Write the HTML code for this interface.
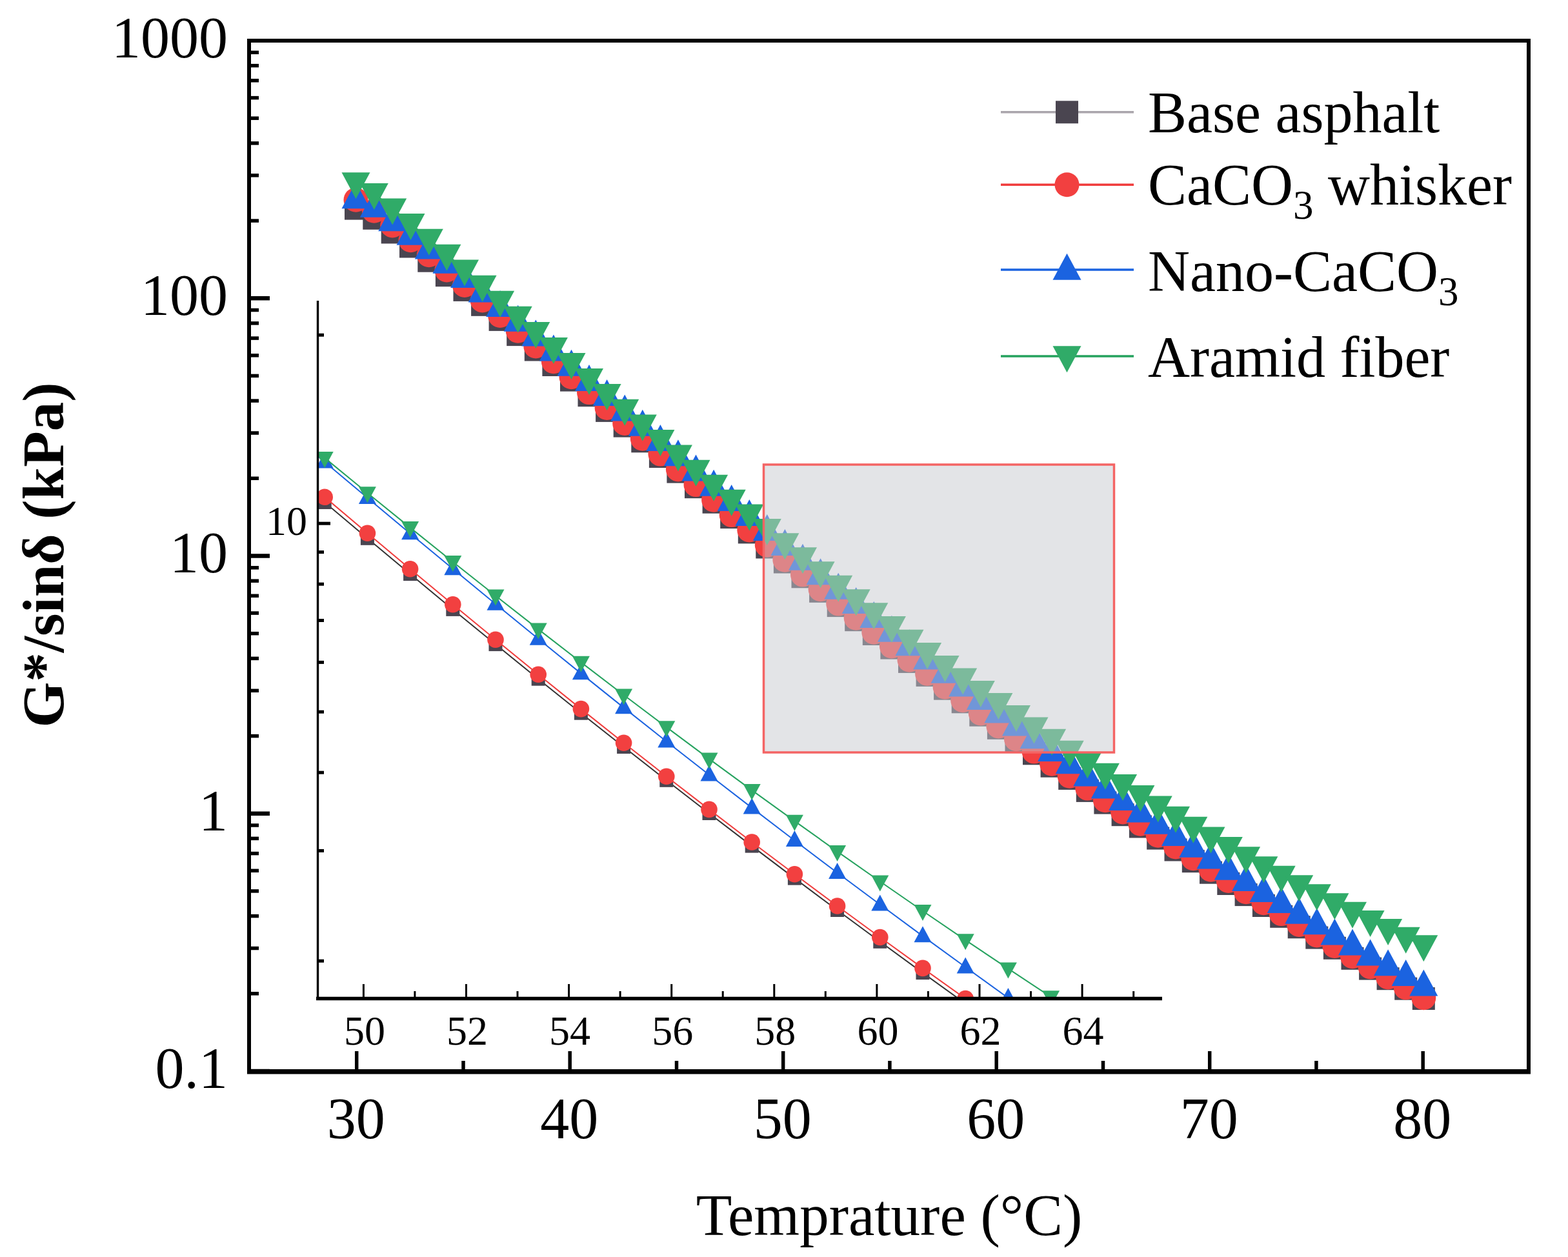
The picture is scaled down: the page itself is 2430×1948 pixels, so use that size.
<!DOCTYPE html><html><head><meta charset="utf-8"><style>html,body{margin:0;padding:0;background:#fff}svg{display:block}text{font-family:"Liberation Serif","Times New Roman",serif;fill:#000}</style></head><body>
<svg width="2430" height="1948" viewBox="0 0 2430 1948">
<rect width="2430" height="1948" fill="#fff"/>
<defs><clipPath id="ic"><rect x="492" y="466" width="1309" height="1079"/></clipPath></defs>
<g clip-path="url(#ic)">
<polyline points="370.8,665.8 437.0,722.3 503.2,778.5 569.4,834.3 635.6,889.6 701.8,944.4 768.0,998.6 834.2,1052.2 900.4,1105.2 966.6,1157.5 1032.8,1209.3 1099.0,1260.5 1165.2,1311.1 1231.4,1361.1 1297.6,1410.5 1363.8,1459.3 1430.0,1507.6 1496.2,1555.3 1562.4,1602.5 1628.6,1649.1 1694.8,1695.2 1761.0,1740.8" fill="none" stroke="#333" stroke-width="2"/>
<rect x="360.3" y="655.3" width="21.0" height="21.0" fill="#4a4550"/>
<rect x="426.5" y="711.8" width="21.0" height="21.0" fill="#4a4550"/>
<rect x="492.7" y="768.0" width="21.0" height="21.0" fill="#4a4550"/>
<rect x="558.9" y="823.8" width="21.0" height="21.0" fill="#4a4550"/>
<rect x="625.1" y="879.1" width="21.0" height="21.0" fill="#4a4550"/>
<rect x="691.3" y="933.9" width="21.0" height="21.0" fill="#4a4550"/>
<rect x="757.5" y="988.1" width="21.0" height="21.0" fill="#4a4550"/>
<rect x="823.7" y="1041.7" width="21.0" height="21.0" fill="#4a4550"/>
<rect x="889.9" y="1094.7" width="21.0" height="21.0" fill="#4a4550"/>
<rect x="956.1" y="1147.0" width="21.0" height="21.0" fill="#4a4550"/>
<rect x="1022.3" y="1198.8" width="21.0" height="21.0" fill="#4a4550"/>
<rect x="1088.5" y="1250.0" width="21.0" height="21.0" fill="#4a4550"/>
<rect x="1154.7" y="1300.6" width="21.0" height="21.0" fill="#4a4550"/>
<rect x="1220.9" y="1350.6" width="21.0" height="21.0" fill="#4a4550"/>
<rect x="1287.1" y="1400.0" width="21.0" height="21.0" fill="#4a4550"/>
<rect x="1353.3" y="1448.8" width="21.0" height="21.0" fill="#4a4550"/>
<rect x="1419.5" y="1497.1" width="21.0" height="21.0" fill="#4a4550"/>
<rect x="1485.7" y="1544.8" width="21.0" height="21.0" fill="#4a4550"/>
<rect x="1551.9" y="1592.0" width="21.0" height="21.0" fill="#4a4550"/>
<rect x="1618.1" y="1638.6" width="21.0" height="21.0" fill="#4a4550"/>
<rect x="1684.3" y="1684.7" width="21.0" height="21.0" fill="#4a4550"/>
<rect x="1750.5" y="1730.3" width="21.0" height="21.0" fill="#4a4550"/>
<polyline points="370.8,657.2 437.0,714.0 503.2,770.3 569.4,826.3 635.6,881.8 701.8,936.8 768.0,991.3 834.2,1045.2 900.4,1098.6 966.6,1151.2 1032.8,1203.2 1099.0,1254.4 1165.2,1305.0 1231.4,1354.8 1297.6,1404.0 1363.8,1452.5 1430.0,1500.4 1496.2,1547.6 1562.4,1594.4 1628.6,1640.5 1694.8,1686.1 1761.0,1731.2" fill="none" stroke="#f03c3c" stroke-width="2"/>
<circle cx="370.8" cy="657.2" r="12.8" fill="#f24040"/>
<circle cx="437.0" cy="714.0" r="12.8" fill="#f24040"/>
<circle cx="503.2" cy="770.3" r="12.8" fill="#f24040"/>
<circle cx="569.4" cy="826.3" r="12.8" fill="#f24040"/>
<circle cx="635.6" cy="881.8" r="12.8" fill="#f24040"/>
<circle cx="701.8" cy="936.8" r="12.8" fill="#f24040"/>
<circle cx="768.0" cy="991.3" r="12.8" fill="#f24040"/>
<circle cx="834.2" cy="1045.2" r="12.8" fill="#f24040"/>
<circle cx="900.4" cy="1098.6" r="12.8" fill="#f24040"/>
<circle cx="966.6" cy="1151.2" r="12.8" fill="#f24040"/>
<circle cx="1032.8" cy="1203.2" r="12.8" fill="#f24040"/>
<circle cx="1099.0" cy="1254.4" r="12.8" fill="#f24040"/>
<circle cx="1165.2" cy="1305.0" r="12.8" fill="#f24040"/>
<circle cx="1231.4" cy="1354.8" r="12.8" fill="#f24040"/>
<circle cx="1297.6" cy="1404.0" r="12.8" fill="#f24040"/>
<circle cx="1363.8" cy="1452.5" r="12.8" fill="#f24040"/>
<circle cx="1430.0" cy="1500.4" r="12.8" fill="#f24040"/>
<circle cx="1496.2" cy="1547.6" r="12.8" fill="#f24040"/>
<circle cx="1562.4" cy="1594.4" r="12.8" fill="#f24040"/>
<circle cx="1628.6" cy="1640.5" r="12.8" fill="#f24040"/>
<circle cx="1694.8" cy="1686.1" r="12.8" fill="#f24040"/>
<circle cx="1761.0" cy="1731.2" r="12.8" fill="#f24040"/>
<polyline points="370.8,604.0 437.0,660.1 503.2,715.9 569.4,771.5 635.6,826.7 701.8,881.6 768.0,936.1 834.2,990.1 900.4,1043.6 966.6,1096.6 1032.8,1149.0 1099.0,1200.8 1165.2,1251.9 1231.4,1302.5 1297.6,1352.5 1363.8,1401.8 1430.0,1450.6 1496.2,1498.8 1562.4,1546.5 1628.6,1593.5 1694.8,1640.1 1761.0,1686.0" fill="none" stroke="#1b63e0" stroke-width="2"/>
<path d="M370.8 588.6L384.3 613.6L357.3 613.6Z" fill="#1b63e0"/>
<path d="M437.0 644.7L450.5 669.7L423.5 669.7Z" fill="#1b63e0"/>
<path d="M503.2 700.5L516.7 725.5L489.7 725.5Z" fill="#1b63e0"/>
<path d="M569.4 756.1L582.9 781.1L555.9 781.1Z" fill="#1b63e0"/>
<path d="M635.6 811.3L649.1 836.3L622.1 836.3Z" fill="#1b63e0"/>
<path d="M701.8 866.2L715.3 891.2L688.3 891.2Z" fill="#1b63e0"/>
<path d="M768.0 920.7L781.5 945.7L754.5 945.7Z" fill="#1b63e0"/>
<path d="M834.2 974.7L847.7 999.7L820.7 999.7Z" fill="#1b63e0"/>
<path d="M900.4 1028.2L913.9 1053.2L886.9 1053.2Z" fill="#1b63e0"/>
<path d="M966.6 1081.2L980.1 1106.2L953.1 1106.2Z" fill="#1b63e0"/>
<path d="M1032.8 1133.6L1046.3 1158.6L1019.3 1158.6Z" fill="#1b63e0"/>
<path d="M1099.0 1185.4L1112.5 1210.4L1085.5 1210.4Z" fill="#1b63e0"/>
<path d="M1165.2 1236.6L1178.7 1261.6L1151.7 1261.6Z" fill="#1b63e0"/>
<path d="M1231.4 1287.1L1244.9 1312.1L1217.9 1312.1Z" fill="#1b63e0"/>
<path d="M1297.6 1337.1L1311.1 1362.1L1284.1 1362.1Z" fill="#1b63e0"/>
<path d="M1363.8 1386.5L1377.3 1411.5L1350.3 1411.5Z" fill="#1b63e0"/>
<path d="M1430.0 1435.2L1443.5 1460.2L1416.5 1460.2Z" fill="#1b63e0"/>
<path d="M1496.2 1483.4L1509.7 1508.4L1482.7 1508.4Z" fill="#1b63e0"/>
<path d="M1562.4 1531.1L1575.9 1556.1L1548.9 1556.1Z" fill="#1b63e0"/>
<path d="M1628.6 1578.2L1642.1 1603.2L1615.1 1603.2Z" fill="#1b63e0"/>
<path d="M1694.8 1624.7L1708.3 1649.7L1681.3 1649.7Z" fill="#1b63e0"/>
<path d="M1761.0 1670.7L1774.5 1695.7L1747.5 1695.7Z" fill="#1b63e0"/>
<polyline points="370.8,599.8 437.0,655.0 503.2,709.7 569.4,763.9 635.6,817.6 701.8,870.7 768.0,923.2 834.2,975.1 900.4,1026.4 966.6,1077.0 1032.8,1126.9 1099.0,1176.1 1165.2,1224.6 1231.4,1272.4 1297.6,1319.6 1363.8,1366.0 1430.0,1411.8 1496.2,1456.8 1562.4,1501.2 1628.6,1544.9 1694.8,1587.9 1761.0,1630.3" fill="none" stroke="#25a25e" stroke-width="2"/>
<path d="M357.3 590.1L384.3 590.1L370.8 615.1Z" fill="#30ab68"/>
<path d="M423.5 645.4L450.5 645.4L437.0 670.4Z" fill="#30ab68"/>
<path d="M489.7 700.1L516.7 700.1L503.2 725.1Z" fill="#30ab68"/>
<path d="M555.9 754.3L582.9 754.3L569.4 779.3Z" fill="#30ab68"/>
<path d="M622.1 808.0L649.1 808.0L635.6 833.0Z" fill="#30ab68"/>
<path d="M688.3 861.1L715.3 861.1L701.8 886.1Z" fill="#30ab68"/>
<path d="M754.5 913.6L781.5 913.6L768.0 938.6Z" fill="#30ab68"/>
<path d="M820.7 965.5L847.7 965.5L834.2 990.5Z" fill="#30ab68"/>
<path d="M886.9 1016.8L913.9 1016.8L900.4 1041.8Z" fill="#30ab68"/>
<path d="M953.1 1067.4L980.1 1067.4L966.6 1092.4Z" fill="#30ab68"/>
<path d="M1019.3 1117.3L1046.3 1117.3L1032.8 1142.3Z" fill="#30ab68"/>
<path d="M1085.5 1166.5L1112.5 1166.5L1099.0 1191.5Z" fill="#30ab68"/>
<path d="M1151.7 1215.0L1178.7 1215.0L1165.2 1240.0Z" fill="#30ab68"/>
<path d="M1217.9 1262.8L1244.9 1262.8L1231.4 1287.8Z" fill="#30ab68"/>
<path d="M1284.1 1310.0L1311.1 1310.0L1297.6 1335.0Z" fill="#30ab68"/>
<path d="M1350.3 1356.4L1377.3 1356.4L1363.8 1381.4Z" fill="#30ab68"/>
<path d="M1416.5 1402.1L1443.5 1402.1L1430.0 1427.1Z" fill="#30ab68"/>
<path d="M1482.7 1447.2L1509.7 1447.2L1496.2 1472.2Z" fill="#30ab68"/>
<path d="M1548.9 1491.6L1575.9 1491.6L1562.4 1516.6Z" fill="#30ab68"/>
<path d="M1615.1 1535.3L1642.1 1535.3L1628.6 1560.3Z" fill="#30ab68"/>
<path d="M1681.3 1578.3L1708.3 1578.3L1694.8 1603.3Z" fill="#30ab68"/>
<path d="M1747.5 1620.7L1774.5 1620.7L1761.0 1645.7Z" fill="#30ab68"/>
</g>
<polyline points="551.5,323.1 579.8,338.3 608.2,360.0 636.5,382.0 664.8,404.2 692.4,426.7 720.0,449.4 747.6,472.3 775.1,495.4 802.7,518.6 830.3,542.0 857.9,565.5 885.5,589.1 913.0,612.7 940.6,636.4 968.2,660.1 995.8,683.8 1023.4,707.5 1050.9,731.1 1078.5,754.7 1106.1,778.2 1133.7,801.6 1161.3,824.9 1188.8,848.0 1216.4,871.0 1244.0,893.8 1271.6,916.3 1299.2,938.6 1326.7,960.7 1354.3,982.5 1381.9,1004.1 1409.5,1025.4 1437.1,1046.4 1464.6,1067.2 1492.2,1087.8 1519.8,1108.2 1547.4,1128.3 1575.0,1148.1 1602.5,1167.8 1630.1,1187.2 1657.7,1206.4 1685.3,1225.4 1712.9,1244.1 1740.1,1262.7 1767.4,1281.0 1794.7,1299.1 1822.0,1317.0 1849.3,1334.7 1876.5,1352.2 1903.8,1369.5 1931.1,1386.6 1958.4,1403.5 1985.7,1420.3 2013.2,1436.8 2040.8,1453.1 2068.4,1469.3 2096.0,1485.3 2123.6,1501.1 2151.1,1516.7 2178.7,1532.2 2206.3,1547.5" fill="none" stroke="#333" stroke-width="2.5"/>
<rect x="534.0" y="305.6" width="35.0" height="35.0" fill="#4a4550"/>
<rect x="562.3" y="320.8" width="35.0" height="35.0" fill="#4a4550"/>
<rect x="590.7" y="342.5" width="35.0" height="35.0" fill="#4a4550"/>
<rect x="619.0" y="364.5" width="35.0" height="35.0" fill="#4a4550"/>
<rect x="647.3" y="386.7" width="35.0" height="35.0" fill="#4a4550"/>
<rect x="674.9" y="409.2" width="35.0" height="35.0" fill="#4a4550"/>
<rect x="702.5" y="431.9" width="35.0" height="35.0" fill="#4a4550"/>
<rect x="730.1" y="454.8" width="35.0" height="35.0" fill="#4a4550"/>
<rect x="757.6" y="477.9" width="35.0" height="35.0" fill="#4a4550"/>
<rect x="785.2" y="501.1" width="35.0" height="35.0" fill="#4a4550"/>
<rect x="812.8" y="524.5" width="35.0" height="35.0" fill="#4a4550"/>
<rect x="840.4" y="548.0" width="35.0" height="35.0" fill="#4a4550"/>
<rect x="868.0" y="571.6" width="35.0" height="35.0" fill="#4a4550"/>
<rect x="895.5" y="595.2" width="35.0" height="35.0" fill="#4a4550"/>
<rect x="923.1" y="618.9" width="35.0" height="35.0" fill="#4a4550"/>
<rect x="950.7" y="642.6" width="35.0" height="35.0" fill="#4a4550"/>
<rect x="978.3" y="666.3" width="35.0" height="35.0" fill="#4a4550"/>
<rect x="1005.9" y="690.0" width="35.0" height="35.0" fill="#4a4550"/>
<rect x="1033.4" y="713.6" width="35.0" height="35.0" fill="#4a4550"/>
<rect x="1061.0" y="737.2" width="35.0" height="35.0" fill="#4a4550"/>
<rect x="1088.6" y="760.7" width="35.0" height="35.0" fill="#4a4550"/>
<rect x="1116.2" y="784.1" width="35.0" height="35.0" fill="#4a4550"/>
<rect x="1143.8" y="807.4" width="35.0" height="35.0" fill="#4a4550"/>
<rect x="1171.3" y="830.5" width="35.0" height="35.0" fill="#4a4550"/>
<rect x="1198.9" y="853.5" width="35.0" height="35.0" fill="#4a4550"/>
<rect x="1226.5" y="876.3" width="35.0" height="35.0" fill="#4a4550"/>
<rect x="1254.1" y="898.8" width="35.0" height="35.0" fill="#4a4550"/>
<rect x="1281.7" y="921.1" width="35.0" height="35.0" fill="#4a4550"/>
<rect x="1309.2" y="943.2" width="35.0" height="35.0" fill="#4a4550"/>
<rect x="1336.8" y="965.0" width="35.0" height="35.0" fill="#4a4550"/>
<rect x="1364.4" y="986.6" width="35.0" height="35.0" fill="#4a4550"/>
<rect x="1392.0" y="1007.9" width="35.0" height="35.0" fill="#4a4550"/>
<rect x="1419.6" y="1028.9" width="35.0" height="35.0" fill="#4a4550"/>
<rect x="1447.1" y="1049.7" width="35.0" height="35.0" fill="#4a4550"/>
<rect x="1474.7" y="1070.3" width="35.0" height="35.0" fill="#4a4550"/>
<rect x="1502.3" y="1090.7" width="35.0" height="35.0" fill="#4a4550"/>
<rect x="1529.9" y="1110.8" width="35.0" height="35.0" fill="#4a4550"/>
<rect x="1557.5" y="1130.6" width="35.0" height="35.0" fill="#4a4550"/>
<rect x="1585.0" y="1150.3" width="35.0" height="35.0" fill="#4a4550"/>
<rect x="1612.6" y="1169.7" width="35.0" height="35.0" fill="#4a4550"/>
<rect x="1640.2" y="1188.9" width="35.0" height="35.0" fill="#4a4550"/>
<rect x="1667.8" y="1207.9" width="35.0" height="35.0" fill="#4a4550"/>
<rect x="1695.4" y="1226.6" width="35.0" height="35.0" fill="#4a4550"/>
<rect x="1722.6" y="1245.2" width="35.0" height="35.0" fill="#4a4550"/>
<rect x="1749.9" y="1263.5" width="35.0" height="35.0" fill="#4a4550"/>
<rect x="1777.2" y="1281.6" width="35.0" height="35.0" fill="#4a4550"/>
<rect x="1804.5" y="1299.5" width="35.0" height="35.0" fill="#4a4550"/>
<rect x="1831.8" y="1317.2" width="35.0" height="35.0" fill="#4a4550"/>
<rect x="1859.0" y="1334.7" width="35.0" height="35.0" fill="#4a4550"/>
<rect x="1886.3" y="1352.0" width="35.0" height="35.0" fill="#4a4550"/>
<rect x="1913.6" y="1369.1" width="35.0" height="35.0" fill="#4a4550"/>
<rect x="1940.9" y="1386.0" width="35.0" height="35.0" fill="#4a4550"/>
<rect x="1968.2" y="1402.8" width="35.0" height="35.0" fill="#4a4550"/>
<rect x="1995.7" y="1419.3" width="35.0" height="35.0" fill="#4a4550"/>
<rect x="2023.3" y="1435.6" width="35.0" height="35.0" fill="#4a4550"/>
<rect x="2050.9" y="1451.8" width="35.0" height="35.0" fill="#4a4550"/>
<rect x="2078.5" y="1467.8" width="35.0" height="35.0" fill="#4a4550"/>
<rect x="2106.1" y="1483.6" width="35.0" height="35.0" fill="#4a4550"/>
<rect x="2133.6" y="1499.2" width="35.0" height="35.0" fill="#4a4550"/>
<rect x="2161.2" y="1514.7" width="35.0" height="35.0" fill="#4a4550"/>
<rect x="2188.8" y="1530.0" width="35.0" height="35.0" fill="#4a4550"/>
<polyline points="551.5,309.7 579.8,326.7 608.2,349.4 636.5,372.3 664.8,395.3 692.4,418.5 720.0,441.9 747.6,465.4 775.1,489.0 802.7,512.7 830.3,536.5 857.9,560.3 885.5,584.2 913.0,608.1 940.6,632.0 968.2,655.9 995.8,679.8 1023.4,703.6 1050.9,727.4 1078.5,751.1 1106.1,774.7 1133.7,798.1 1161.3,821.5 1188.8,844.7 1216.4,867.7 1244.0,890.6 1271.6,913.2 1299.2,935.6 1326.7,957.8 1354.3,979.8 1381.9,1001.5 1409.5,1022.8 1437.1,1043.9 1464.6,1064.7 1492.2,1085.2 1519.8,1105.5 1547.4,1125.4 1575.0,1145.2 1602.5,1164.6 1630.1,1183.8 1657.7,1202.8 1685.3,1221.6 1712.9,1240.2 1740.1,1258.5 1767.4,1276.7 1794.7,1294.7 1822.0,1312.5 1849.3,1330.2 1876.5,1347.7 1903.8,1365.0 1931.1,1382.2 1958.4,1399.2 1985.7,1416.1 2013.2,1432.9 2040.8,1449.5 2068.4,1466.0 2096.0,1482.3 2123.6,1498.5 2151.1,1514.5 2178.7,1530.5 2206.3,1546.2" fill="none" stroke="#f03c3c" stroke-width="2.5"/>
<circle cx="551.5" cy="309.7" r="19.0" fill="#f24040"/>
<circle cx="579.8" cy="326.7" r="19.0" fill="#f24040"/>
<circle cx="608.2" cy="349.4" r="19.0" fill="#f24040"/>
<circle cx="636.5" cy="372.3" r="19.0" fill="#f24040"/>
<circle cx="664.8" cy="395.3" r="19.0" fill="#f24040"/>
<circle cx="692.4" cy="418.5" r="19.0" fill="#f24040"/>
<circle cx="720.0" cy="441.9" r="19.0" fill="#f24040"/>
<circle cx="747.6" cy="465.4" r="19.0" fill="#f24040"/>
<circle cx="775.1" cy="489.0" r="19.0" fill="#f24040"/>
<circle cx="802.7" cy="512.7" r="19.0" fill="#f24040"/>
<circle cx="830.3" cy="536.5" r="19.0" fill="#f24040"/>
<circle cx="857.9" cy="560.3" r="19.0" fill="#f24040"/>
<circle cx="885.5" cy="584.2" r="19.0" fill="#f24040"/>
<circle cx="913.0" cy="608.1" r="19.0" fill="#f24040"/>
<circle cx="940.6" cy="632.0" r="19.0" fill="#f24040"/>
<circle cx="968.2" cy="655.9" r="19.0" fill="#f24040"/>
<circle cx="995.8" cy="679.8" r="19.0" fill="#f24040"/>
<circle cx="1023.4" cy="703.6" r="19.0" fill="#f24040"/>
<circle cx="1050.9" cy="727.4" r="19.0" fill="#f24040"/>
<circle cx="1078.5" cy="751.1" r="19.0" fill="#f24040"/>
<circle cx="1106.1" cy="774.7" r="19.0" fill="#f24040"/>
<circle cx="1133.7" cy="798.1" r="19.0" fill="#f24040"/>
<circle cx="1161.3" cy="821.5" r="19.0" fill="#f24040"/>
<circle cx="1188.8" cy="844.7" r="19.0" fill="#f24040"/>
<circle cx="1216.4" cy="867.7" r="19.0" fill="#f24040"/>
<circle cx="1244.0" cy="890.6" r="19.0" fill="#f24040"/>
<circle cx="1271.6" cy="913.2" r="19.0" fill="#f24040"/>
<circle cx="1299.2" cy="935.6" r="19.0" fill="#f24040"/>
<circle cx="1326.7" cy="957.8" r="19.0" fill="#f24040"/>
<circle cx="1354.3" cy="979.8" r="19.0" fill="#f24040"/>
<circle cx="1381.9" cy="1001.5" r="19.0" fill="#f24040"/>
<circle cx="1409.5" cy="1022.8" r="19.0" fill="#f24040"/>
<circle cx="1437.1" cy="1043.9" r="19.0" fill="#f24040"/>
<circle cx="1464.6" cy="1064.7" r="19.0" fill="#f24040"/>
<circle cx="1492.2" cy="1085.2" r="19.0" fill="#f24040"/>
<circle cx="1519.8" cy="1105.5" r="19.0" fill="#f24040"/>
<circle cx="1547.4" cy="1125.4" r="19.0" fill="#f24040"/>
<circle cx="1575.0" cy="1145.2" r="19.0" fill="#f24040"/>
<circle cx="1602.5" cy="1164.6" r="19.0" fill="#f24040"/>
<circle cx="1630.1" cy="1183.8" r="19.0" fill="#f24040"/>
<circle cx="1657.7" cy="1202.8" r="19.0" fill="#f24040"/>
<circle cx="1685.3" cy="1221.6" r="19.0" fill="#f24040"/>
<circle cx="1712.9" cy="1240.2" r="19.0" fill="#f24040"/>
<circle cx="1740.1" cy="1258.5" r="19.0" fill="#f24040"/>
<circle cx="1767.4" cy="1276.7" r="19.0" fill="#f24040"/>
<circle cx="1794.7" cy="1294.7" r="19.0" fill="#f24040"/>
<circle cx="1822.0" cy="1312.5" r="19.0" fill="#f24040"/>
<circle cx="1849.3" cy="1330.2" r="19.0" fill="#f24040"/>
<circle cx="1876.5" cy="1347.7" r="19.0" fill="#f24040"/>
<circle cx="1903.8" cy="1365.0" r="19.0" fill="#f24040"/>
<circle cx="1931.1" cy="1382.2" r="19.0" fill="#f24040"/>
<circle cx="1958.4" cy="1399.2" r="19.0" fill="#f24040"/>
<circle cx="1985.7" cy="1416.1" r="19.0" fill="#f24040"/>
<circle cx="2013.2" cy="1432.9" r="19.0" fill="#f24040"/>
<circle cx="2040.8" cy="1449.5" r="19.0" fill="#f24040"/>
<circle cx="2068.4" cy="1466.0" r="19.0" fill="#f24040"/>
<circle cx="2096.0" cy="1482.3" r="19.0" fill="#f24040"/>
<circle cx="2123.6" cy="1498.5" r="19.0" fill="#f24040"/>
<circle cx="2151.1" cy="1514.5" r="19.0" fill="#f24040"/>
<circle cx="2178.7" cy="1530.5" r="19.0" fill="#f24040"/>
<circle cx="2206.3" cy="1546.2" r="19.0" fill="#f24040"/>
<polyline points="551.5,307.4 579.8,321.1 608.2,342.4 636.5,364.0 664.8,385.8 692.4,407.9 720.0,430.1 747.6,452.6 775.1,475.2 802.7,497.9 830.3,520.8 857.9,543.8 885.5,566.9 913.0,590.1 940.6,613.3 968.2,636.6 995.8,659.9 1023.4,683.2 1050.9,706.5 1078.5,729.8 1106.1,753.0 1133.7,776.2 1161.3,799.3 1188.8,822.3 1216.4,845.1 1244.0,867.9 1271.6,890.5 1299.2,912.9 1326.7,935.1 1354.3,957.2 1381.9,979.0 1409.5,1000.5 1437.1,1021.8 1464.6,1042.9 1492.2,1063.7 1519.8,1084.3 1547.4,1104.6 1575.0,1124.7 1602.5,1144.5 1630.1,1164.1 1657.7,1183.5 1685.3,1202.7 1712.9,1221.6 1740.1,1240.3 1767.4,1258.8 1794.7,1277.0 1822.0,1295.1 1849.3,1313.0 1876.5,1330.6 1903.8,1348.0 1931.1,1365.3 1958.4,1382.3 1985.7,1399.2 2013.2,1415.9 2040.8,1432.4 2068.4,1448.7 2096.0,1464.8 2123.6,1480.7 2151.1,1496.5 2178.7,1512.1 2206.3,1527.6" fill="none" stroke="#1b63e0" stroke-width="2.5"/>
<path d="M551.5 282.2L573.5 323.2L529.5 323.2Z" fill="#1b63e0"/>
<path d="M579.8 295.8L601.8 336.8L557.8 336.8Z" fill="#1b63e0"/>
<path d="M608.2 317.2L630.2 358.2L586.2 358.2Z" fill="#1b63e0"/>
<path d="M636.5 338.8L658.5 379.8L614.5 379.8Z" fill="#1b63e0"/>
<path d="M664.8 360.6L686.8 401.6L642.8 401.6Z" fill="#1b63e0"/>
<path d="M692.4 382.7L714.4 423.7L670.4 423.7Z" fill="#1b63e0"/>
<path d="M720.0 404.9L742.0 445.9L698.0 445.9Z" fill="#1b63e0"/>
<path d="M747.6 427.4L769.6 468.4L725.6 468.4Z" fill="#1b63e0"/>
<path d="M775.1 450.0L797.1 491.0L753.1 491.0Z" fill="#1b63e0"/>
<path d="M802.7 472.7L824.7 513.7L780.7 513.7Z" fill="#1b63e0"/>
<path d="M830.3 495.6L852.3 536.6L808.3 536.6Z" fill="#1b63e0"/>
<path d="M857.9 518.6L879.9 559.6L835.9 559.6Z" fill="#1b63e0"/>
<path d="M885.5 541.7L907.5 582.7L863.5 582.7Z" fill="#1b63e0"/>
<path d="M913.0 564.9L935.0 605.9L891.0 605.9Z" fill="#1b63e0"/>
<path d="M940.6 588.1L962.6 629.1L918.6 629.1Z" fill="#1b63e0"/>
<path d="M968.2 611.4L990.2 652.4L946.2 652.4Z" fill="#1b63e0"/>
<path d="M995.8 634.7L1017.8 675.7L973.8 675.7Z" fill="#1b63e0"/>
<path d="M1023.4 658.0L1045.4 699.0L1001.4 699.0Z" fill="#1b63e0"/>
<path d="M1050.9 681.3L1072.9 722.3L1028.9 722.3Z" fill="#1b63e0"/>
<path d="M1078.5 704.6L1100.5 745.6L1056.5 745.6Z" fill="#1b63e0"/>
<path d="M1106.1 727.8L1128.1 768.8L1084.1 768.8Z" fill="#1b63e0"/>
<path d="M1133.7 751.0L1155.7 792.0L1111.7 792.0Z" fill="#1b63e0"/>
<path d="M1161.3 774.1L1183.3 815.1L1139.3 815.1Z" fill="#1b63e0"/>
<path d="M1188.8 797.1L1210.8 838.1L1166.8 838.1Z" fill="#1b63e0"/>
<path d="M1216.4 819.9L1238.4 860.9L1194.4 860.9Z" fill="#1b63e0"/>
<path d="M1244.0 842.7L1266.0 883.7L1222.0 883.7Z" fill="#1b63e0"/>
<path d="M1271.6 865.3L1293.6 906.3L1249.6 906.3Z" fill="#1b63e0"/>
<path d="M1299.2 887.7L1321.2 928.7L1277.2 928.7Z" fill="#1b63e0"/>
<path d="M1326.7 909.9L1348.7 950.9L1304.7 950.9Z" fill="#1b63e0"/>
<path d="M1354.3 931.9L1376.3 972.9L1332.3 972.9Z" fill="#1b63e0"/>
<path d="M1381.9 953.7L1403.9 994.7L1359.9 994.7Z" fill="#1b63e0"/>
<path d="M1409.5 975.3L1431.5 1016.3L1387.5 1016.3Z" fill="#1b63e0"/>
<path d="M1437.1 996.6L1459.1 1037.6L1415.1 1037.6Z" fill="#1b63e0"/>
<path d="M1464.6 1017.7L1486.6 1058.7L1442.6 1058.7Z" fill="#1b63e0"/>
<path d="M1492.2 1038.5L1514.2 1079.5L1470.2 1079.5Z" fill="#1b63e0"/>
<path d="M1519.8 1059.1L1541.8 1100.1L1497.8 1100.1Z" fill="#1b63e0"/>
<path d="M1547.4 1079.4L1569.4 1120.4L1525.4 1120.4Z" fill="#1b63e0"/>
<path d="M1575.0 1099.5L1597.0 1140.5L1553.0 1140.5Z" fill="#1b63e0"/>
<path d="M1602.5 1119.3L1624.5 1160.3L1580.5 1160.3Z" fill="#1b63e0"/>
<path d="M1630.1 1138.9L1652.1 1179.9L1608.1 1179.9Z" fill="#1b63e0"/>
<path d="M1657.7 1158.3L1679.7 1199.3L1635.7 1199.3Z" fill="#1b63e0"/>
<path d="M1685.3 1177.4L1707.3 1218.4L1663.3 1218.4Z" fill="#1b63e0"/>
<path d="M1712.9 1196.4L1734.9 1237.4L1690.9 1237.4Z" fill="#1b63e0"/>
<path d="M1740.1 1215.1L1762.1 1256.1L1718.1 1256.1Z" fill="#1b63e0"/>
<path d="M1767.4 1233.6L1789.4 1274.6L1745.4 1274.6Z" fill="#1b63e0"/>
<path d="M1794.7 1251.8L1816.7 1292.8L1772.7 1292.8Z" fill="#1b63e0"/>
<path d="M1822.0 1269.9L1844.0 1310.9L1800.0 1310.9Z" fill="#1b63e0"/>
<path d="M1849.3 1287.7L1871.3 1328.7L1827.3 1328.7Z" fill="#1b63e0"/>
<path d="M1876.5 1305.4L1898.5 1346.4L1854.5 1346.4Z" fill="#1b63e0"/>
<path d="M1903.8 1322.8L1925.8 1363.8L1881.8 1363.8Z" fill="#1b63e0"/>
<path d="M1931.1 1340.1L1953.1 1381.1L1909.1 1381.1Z" fill="#1b63e0"/>
<path d="M1958.4 1357.1L1980.4 1398.1L1936.4 1398.1Z" fill="#1b63e0"/>
<path d="M1985.7 1374.0L2007.7 1415.0L1963.7 1415.0Z" fill="#1b63e0"/>
<path d="M2013.2 1390.7L2035.2 1431.7L1991.2 1431.7Z" fill="#1b63e0"/>
<path d="M2040.8 1407.2L2062.8 1448.2L2018.8 1448.2Z" fill="#1b63e0"/>
<path d="M2068.4 1423.5L2090.4 1464.5L2046.4 1464.5Z" fill="#1b63e0"/>
<path d="M2096.0 1439.6L2118.0 1480.6L2074.0 1480.6Z" fill="#1b63e0"/>
<path d="M2123.6 1455.5L2145.6 1496.5L2101.6 1496.5Z" fill="#1b63e0"/>
<path d="M2151.1 1471.3L2173.1 1512.3L2129.1 1512.3Z" fill="#1b63e0"/>
<path d="M2178.7 1486.9L2200.7 1527.9L2156.7 1527.9Z" fill="#1b63e0"/>
<path d="M2206.3 1502.4L2228.3 1543.4L2184.3 1543.4Z" fill="#1b63e0"/>
<polyline points="551.5,283.1 579.8,299.8 608.2,323.3 636.5,346.9 664.8,370.6 692.4,394.5 720.0,418.4 747.6,442.5 775.1,466.5 802.7,490.6 830.3,514.7 857.9,538.8 885.5,562.9 913.0,586.8 940.6,610.8 968.2,634.6 995.8,658.3 1023.4,681.8 1050.9,705.2 1078.5,728.5 1106.1,751.6 1133.7,774.5 1161.3,797.2 1188.8,819.7 1216.4,842.0 1244.0,864.1 1271.6,886.0 1299.2,907.6 1326.7,929.0 1354.3,950.1 1381.9,970.9 1409.5,991.4 1437.1,1011.7 1464.6,1031.7 1492.2,1051.3 1519.8,1070.7 1547.4,1089.9 1575.0,1108.7 1602.5,1127.2 1630.1,1145.5 1657.7,1163.5 1685.3,1181.2 1712.9,1198.6 1740.1,1215.8 1767.4,1232.6 1794.7,1249.2 1822.0,1265.6 1849.3,1281.6 1876.5,1297.3 1903.8,1312.8 1931.1,1328.0 1958.4,1343.0 1985.7,1357.6 2013.2,1372.0 2040.8,1386.1 2068.4,1400.0 2096.0,1413.5 2123.6,1426.8 2151.1,1439.9 2178.7,1452.6 2206.3,1465.1" fill="none" stroke="#25a25e" stroke-width="2.5"/>
<path d="M529.5 267.3L573.5 267.3L551.5 308.3Z" fill="#30ab68"/>
<path d="M557.8 284.0L601.8 284.0L579.8 325.0Z" fill="#30ab68"/>
<path d="M586.2 307.5L630.2 307.5L608.2 348.5Z" fill="#30ab68"/>
<path d="M614.5 331.1L658.5 331.1L636.5 372.1Z" fill="#30ab68"/>
<path d="M642.8 354.8L686.8 354.8L664.8 395.8Z" fill="#30ab68"/>
<path d="M670.4 378.7L714.4 378.7L692.4 419.7Z" fill="#30ab68"/>
<path d="M698.0 402.6L742.0 402.6L720.0 443.6Z" fill="#30ab68"/>
<path d="M725.6 426.7L769.6 426.7L747.6 467.7Z" fill="#30ab68"/>
<path d="M753.1 450.7L797.1 450.7L775.1 491.7Z" fill="#30ab68"/>
<path d="M780.7 474.8L824.7 474.8L802.7 515.8Z" fill="#30ab68"/>
<path d="M808.3 498.9L852.3 498.9L830.3 539.9Z" fill="#30ab68"/>
<path d="M835.9 523.0L879.9 523.0L857.9 564.0Z" fill="#30ab68"/>
<path d="M863.5 547.1L907.5 547.1L885.5 588.1Z" fill="#30ab68"/>
<path d="M891.0 571.1L935.0 571.1L913.0 612.1Z" fill="#30ab68"/>
<path d="M918.6 595.0L962.6 595.0L940.6 636.0Z" fill="#30ab68"/>
<path d="M946.2 618.8L990.2 618.8L968.2 659.8Z" fill="#30ab68"/>
<path d="M973.8 642.5L1017.8 642.5L995.8 683.5Z" fill="#30ab68"/>
<path d="M1001.4 666.0L1045.4 666.0L1023.4 707.0Z" fill="#30ab68"/>
<path d="M1028.9 689.4L1072.9 689.4L1050.9 730.4Z" fill="#30ab68"/>
<path d="M1056.5 712.7L1100.5 712.7L1078.5 753.7Z" fill="#30ab68"/>
<path d="M1084.1 735.8L1128.1 735.8L1106.1 776.8Z" fill="#30ab68"/>
<path d="M1111.7 758.7L1155.7 758.7L1133.7 799.7Z" fill="#30ab68"/>
<path d="M1139.3 781.4L1183.3 781.4L1161.3 822.4Z" fill="#30ab68"/>
<path d="M1166.8 803.9L1210.8 803.9L1188.8 844.9Z" fill="#30ab68"/>
<path d="M1194.4 826.3L1238.4 826.3L1216.4 867.3Z" fill="#30ab68"/>
<path d="M1222.0 848.3L1266.0 848.3L1244.0 889.3Z" fill="#30ab68"/>
<path d="M1249.6 870.2L1293.6 870.2L1271.6 911.2Z" fill="#30ab68"/>
<path d="M1277.2 891.8L1321.2 891.8L1299.2 932.8Z" fill="#30ab68"/>
<path d="M1304.7 913.2L1348.7 913.2L1326.7 954.2Z" fill="#30ab68"/>
<path d="M1332.3 934.3L1376.3 934.3L1354.3 975.3Z" fill="#30ab68"/>
<path d="M1359.9 955.1L1403.9 955.1L1381.9 996.1Z" fill="#30ab68"/>
<path d="M1387.5 975.7L1431.5 975.7L1409.5 1016.7Z" fill="#30ab68"/>
<path d="M1415.1 995.9L1459.1 995.9L1437.1 1036.9Z" fill="#30ab68"/>
<path d="M1442.6 1015.9L1486.6 1015.9L1464.6 1056.9Z" fill="#30ab68"/>
<path d="M1470.2 1035.6L1514.2 1035.6L1492.2 1076.6Z" fill="#30ab68"/>
<path d="M1497.8 1055.0L1541.8 1055.0L1519.8 1096.0Z" fill="#30ab68"/>
<path d="M1525.4 1074.1L1569.4 1074.1L1547.4 1115.1Z" fill="#30ab68"/>
<path d="M1553.0 1092.9L1597.0 1092.9L1575.0 1133.9Z" fill="#30ab68"/>
<path d="M1580.5 1111.5L1624.5 1111.5L1602.5 1152.5Z" fill="#30ab68"/>
<path d="M1608.1 1129.7L1652.1 1129.7L1630.1 1170.7Z" fill="#30ab68"/>
<path d="M1635.7 1147.7L1679.7 1147.7L1657.7 1188.7Z" fill="#30ab68"/>
<path d="M1663.3 1165.4L1707.3 1165.4L1685.3 1206.4Z" fill="#30ab68"/>
<path d="M1690.9 1182.8L1734.9 1182.8L1712.9 1223.8Z" fill="#30ab68"/>
<path d="M1718.1 1200.0L1762.1 1200.0L1740.1 1241.0Z" fill="#30ab68"/>
<path d="M1745.4 1216.9L1789.4 1216.9L1767.4 1257.9Z" fill="#30ab68"/>
<path d="M1772.7 1233.5L1816.7 1233.5L1794.7 1274.5Z" fill="#30ab68"/>
<path d="M1800.0 1249.8L1844.0 1249.8L1822.0 1290.8Z" fill="#30ab68"/>
<path d="M1827.3 1265.8L1871.3 1265.8L1849.3 1306.8Z" fill="#30ab68"/>
<path d="M1854.5 1281.6L1898.5 1281.6L1876.5 1322.6Z" fill="#30ab68"/>
<path d="M1881.8 1297.0L1925.8 1297.0L1903.8 1338.0Z" fill="#30ab68"/>
<path d="M1909.1 1312.3L1953.1 1312.3L1931.1 1353.3Z" fill="#30ab68"/>
<path d="M1936.4 1327.2L1980.4 1327.2L1958.4 1368.2Z" fill="#30ab68"/>
<path d="M1963.7 1341.8L2007.7 1341.8L1985.7 1382.8Z" fill="#30ab68"/>
<path d="M1991.2 1356.2L2035.2 1356.2L2013.2 1397.2Z" fill="#30ab68"/>
<path d="M2018.8 1370.3L2062.8 1370.3L2040.8 1411.3Z" fill="#30ab68"/>
<path d="M2046.4 1384.2L2090.4 1384.2L2068.4 1425.2Z" fill="#30ab68"/>
<path d="M2074.0 1397.8L2118.0 1397.8L2096.0 1438.8Z" fill="#30ab68"/>
<path d="M2101.6 1411.1L2145.6 1411.1L2123.6 1452.1Z" fill="#30ab68"/>
<path d="M2129.1 1424.1L2173.1 1424.1L2151.1 1465.1Z" fill="#30ab68"/>
<path d="M2156.7 1436.8L2200.7 1436.8L2178.7 1477.8Z" fill="#30ab68"/>
<path d="M2184.3 1449.3L2228.3 1449.3L2206.3 1490.3Z" fill="#30ab68"/>
<rect x="1183.5" y="720" width="543" height="446" fill="rgb(200,202,208)" fill-opacity="0.5" stroke="#f46464" stroke-width="3.5"/>
<g stroke="#000" fill="none">
<line x1="492.5" y1="466" x2="492.5" y2="1550" stroke-width="3.4"/>
<line x1="490" y1="1547.5" x2="1801" y2="1547.5" stroke-width="5.5"/>
<line x1="563.4" y1="1525" x2="563.4" y2="1545" stroke-width="3"/>
<line x1="642.9" y1="1536" x2="642.9" y2="1545" stroke-width="3"/>
<line x1="722.5" y1="1525" x2="722.5" y2="1545" stroke-width="3"/>
<line x1="802.0" y1="1536" x2="802.0" y2="1545" stroke-width="3"/>
<line x1="881.6" y1="1525" x2="881.6" y2="1545" stroke-width="3"/>
<line x1="961.1" y1="1536" x2="961.1" y2="1545" stroke-width="3"/>
<line x1="1040.7" y1="1525" x2="1040.7" y2="1545" stroke-width="3"/>
<line x1="1120.2" y1="1536" x2="1120.2" y2="1545" stroke-width="3"/>
<line x1="1199.8" y1="1525" x2="1199.8" y2="1545" stroke-width="3"/>
<line x1="1279.3" y1="1536" x2="1279.3" y2="1545" stroke-width="3"/>
<line x1="1358.9" y1="1525" x2="1358.9" y2="1545" stroke-width="3"/>
<line x1="1438.4" y1="1536" x2="1438.4" y2="1545" stroke-width="3"/>
<line x1="1518.0" y1="1525" x2="1518.0" y2="1545" stroke-width="3"/>
<line x1="1597.5" y1="1536" x2="1597.5" y2="1545" stroke-width="3"/>
<line x1="1677.1" y1="1525" x2="1677.1" y2="1545" stroke-width="3"/>
<line x1="1756.7" y1="1536" x2="1756.7" y2="1545" stroke-width="3"/>
<line x1="494" y1="1489.2" x2="502" y2="1489.2" stroke-width="5" />
<line x1="494" y1="1318.4" x2="502" y2="1318.4" stroke-width="5" />
<line x1="494" y1="1197.2" x2="502" y2="1197.2" stroke-width="5" />
<line x1="494" y1="1103.2" x2="502" y2="1103.2" stroke-width="5" />
<line x1="494" y1="1026.4" x2="502" y2="1026.4" stroke-width="5" />
<line x1="494" y1="961.5" x2="502" y2="961.5" stroke-width="5" />
<line x1="494" y1="905.2" x2="502" y2="905.2" stroke-width="5" />
<line x1="494" y1="855.6" x2="502" y2="855.6" stroke-width="5" />
<line x1="494" y1="811.2" x2="512" y2="811.2" stroke-width="5" />
<line x1="494" y1="519.2" x2="502" y2="519.2" stroke-width="5" />
</g>
<text x="564.9" y="1619" font-size="64" text-anchor="middle">50</text>
<text x="724.0" y="1619" font-size="64" text-anchor="middle">52</text>
<text x="883.1" y="1619" font-size="64" text-anchor="middle">54</text>
<text x="1042.2" y="1619" font-size="64" text-anchor="middle">56</text>
<text x="1201.3" y="1619" font-size="64" text-anchor="middle">58</text>
<text x="1360.4" y="1619" font-size="64" text-anchor="middle">60</text>
<text x="1519.5" y="1619" font-size="64" text-anchor="middle">62</text>
<text x="1678.6" y="1619" font-size="64" text-anchor="middle">64</text>
<text x="476" y="829" font-size="64" text-anchor="end">10</text>
<g stroke="#000" fill="none">
<rect x="386" y="63" width="1983" height="1597" stroke-width="6"/>
<line x1="383" y1="1661" x2="2372" y2="1661" stroke-width="7"/>
<line x1="552.7" y1="1629" x2="552.7" y2="1657" stroke-width="5.5"/>
<line x1="718.0" y1="1644" x2="718.0" y2="1657" stroke-width="5.5"/>
<line x1="883.2" y1="1629" x2="883.2" y2="1657" stroke-width="5.5"/>
<line x1="1048.5" y1="1644" x2="1048.5" y2="1657" stroke-width="5.5"/>
<line x1="1213.7" y1="1629" x2="1213.7" y2="1657" stroke-width="5.5"/>
<line x1="1378.9" y1="1644" x2="1378.9" y2="1657" stroke-width="5.5"/>
<line x1="1544.2" y1="1629" x2="1544.2" y2="1657" stroke-width="5.5"/>
<line x1="1709.5" y1="1644" x2="1709.5" y2="1657" stroke-width="5.5"/>
<line x1="1874.7" y1="1629" x2="1874.7" y2="1657" stroke-width="5.5"/>
<line x1="2039.9" y1="1644" x2="2039.9" y2="1657" stroke-width="5.5"/>
<line x1="2205.2" y1="1629" x2="2205.2" y2="1657" stroke-width="5.5"/>
<line x1="389" y1="1660.0" x2="418" y2="1660.0" stroke-width="6.5"/>
<line x1="389" y1="1539.8" x2="401" y2="1539.8" stroke-width="5.5"/>
<line x1="389" y1="1469.5" x2="401" y2="1469.5" stroke-width="5.5"/>
<line x1="389" y1="1419.6" x2="401" y2="1419.6" stroke-width="5.5"/>
<line x1="389" y1="1380.9" x2="401" y2="1380.9" stroke-width="5.5"/>
<line x1="389" y1="1349.3" x2="401" y2="1349.3" stroke-width="5.5"/>
<line x1="389" y1="1322.6" x2="401" y2="1322.6" stroke-width="5.5"/>
<line x1="389" y1="1299.4" x2="401" y2="1299.4" stroke-width="5.5"/>
<line x1="389" y1="1279.0" x2="401" y2="1279.0" stroke-width="5.5"/>
<line x1="389" y1="1260.8" x2="418" y2="1260.8" stroke-width="6.5"/>
<line x1="389" y1="1140.6" x2="401" y2="1140.6" stroke-width="5.5"/>
<line x1="389" y1="1070.3" x2="401" y2="1070.3" stroke-width="5.5"/>
<line x1="389" y1="1020.4" x2="401" y2="1020.4" stroke-width="5.5"/>
<line x1="389" y1="981.7" x2="401" y2="981.7" stroke-width="5.5"/>
<line x1="389" y1="950.1" x2="401" y2="950.1" stroke-width="5.5"/>
<line x1="389" y1="923.3" x2="401" y2="923.3" stroke-width="5.5"/>
<line x1="389" y1="900.2" x2="401" y2="900.2" stroke-width="5.5"/>
<line x1="389" y1="879.8" x2="401" y2="879.8" stroke-width="5.5"/>
<line x1="389" y1="861.5" x2="418" y2="861.5" stroke-width="6.5"/>
<line x1="389" y1="741.3" x2="401" y2="741.3" stroke-width="5.5"/>
<line x1="389" y1="671.0" x2="401" y2="671.0" stroke-width="5.5"/>
<line x1="389" y1="621.1" x2="401" y2="621.1" stroke-width="5.5"/>
<line x1="389" y1="582.4" x2="401" y2="582.4" stroke-width="5.5"/>
<line x1="389" y1="550.8" x2="401" y2="550.8" stroke-width="5.5"/>
<line x1="389" y1="524.1" x2="401" y2="524.1" stroke-width="5.5"/>
<line x1="389" y1="500.9" x2="401" y2="500.9" stroke-width="5.5"/>
<line x1="389" y1="480.5" x2="401" y2="480.5" stroke-width="5.5"/>
<line x1="389" y1="462.2" x2="418" y2="462.2" stroke-width="6.5"/>
<line x1="389" y1="342.1" x2="401" y2="342.1" stroke-width="5.5"/>
<line x1="389" y1="271.8" x2="401" y2="271.8" stroke-width="5.5"/>
<line x1="389" y1="221.9" x2="401" y2="221.9" stroke-width="5.5"/>
<line x1="389" y1="183.2" x2="401" y2="183.2" stroke-width="5.5"/>
<line x1="389" y1="151.6" x2="401" y2="151.6" stroke-width="5.5"/>
<line x1="389" y1="124.8" x2="401" y2="124.8" stroke-width="5.5"/>
<line x1="389" y1="101.7" x2="401" y2="101.7" stroke-width="5.5"/>
<line x1="389" y1="81.3" x2="401" y2="81.3" stroke-width="5.5"/>
</g>
<text x="353" y="88.8" font-size="90" text-anchor="end">1000</text>
<text x="353" y="488.1" font-size="90" text-anchor="end">100</text>
<text x="353" y="887.3" font-size="90" text-anchor="end">10</text>
<text x="353" y="1286.5" font-size="90" text-anchor="end">1</text>
<text x="353" y="1685.8" font-size="90" text-anchor="end">0.1</text>
<text x="551.7" y="1764" font-size="90" text-anchor="middle">30</text>
<text x="882.2" y="1764" font-size="90" text-anchor="middle">40</text>
<text x="1212.7" y="1764" font-size="90" text-anchor="middle">50</text>
<text x="1543.2" y="1764" font-size="90" text-anchor="middle">60</text>
<text x="1873.7" y="1764" font-size="90" text-anchor="middle">70</text>
<text x="2204.2" y="1764" font-size="90" text-anchor="middle">80</text>
<text x="1378" y="1914" font-size="91" text-anchor="middle">Temprature (°C)</text>
<text transform="translate(98,860) rotate(-90)" font-size="91" font-weight="bold" text-anchor="middle">G*/sinδ (kPa)</text>
<line x1="1551" y1="173.8" x2="1757" y2="173.8" stroke="#aaa6ac" stroke-width="3.5"/>
<rect x="1636.0" y="156.3" width="35.0" height="35.0" fill="#4a4550"/>
<text x="1779" y="205" font-size="90">Base asphalt</text>
<line x1="1551" y1="286.2" x2="1757" y2="286.2" stroke="#f03c3c" stroke-width="3.5"/>
<circle cx="1653.5" cy="286.2" r="19.0" fill="#f24040"/>
<text x="1779" y="316.5" font-size="90">CaCO<tspan dy="22" font-size="63">3</tspan><tspan dy="-22"> whisker</tspan></text>
<line x1="1551" y1="417.9" x2="1757" y2="417.9" stroke="#1b63e0" stroke-width="3.5"/>
<path d="M1653.5 392.7L1675.5 433.7L1631.5 433.7Z" fill="#1b63e0"/>
<text x="1779" y="450.5" font-size="90">Nano-CaCO<tspan dy="22" font-size="63">3</tspan></text>
<line x1="1551" y1="552.1" x2="1757" y2="552.1" stroke="#25a25e" stroke-width="3.5"/>
<path d="M1631.5 536.3L1675.5 536.3L1653.5 577.3Z" fill="#30ab68"/>
<text x="1779" y="583.5" font-size="90">Aramid fiber</text>
</svg></body></html>
